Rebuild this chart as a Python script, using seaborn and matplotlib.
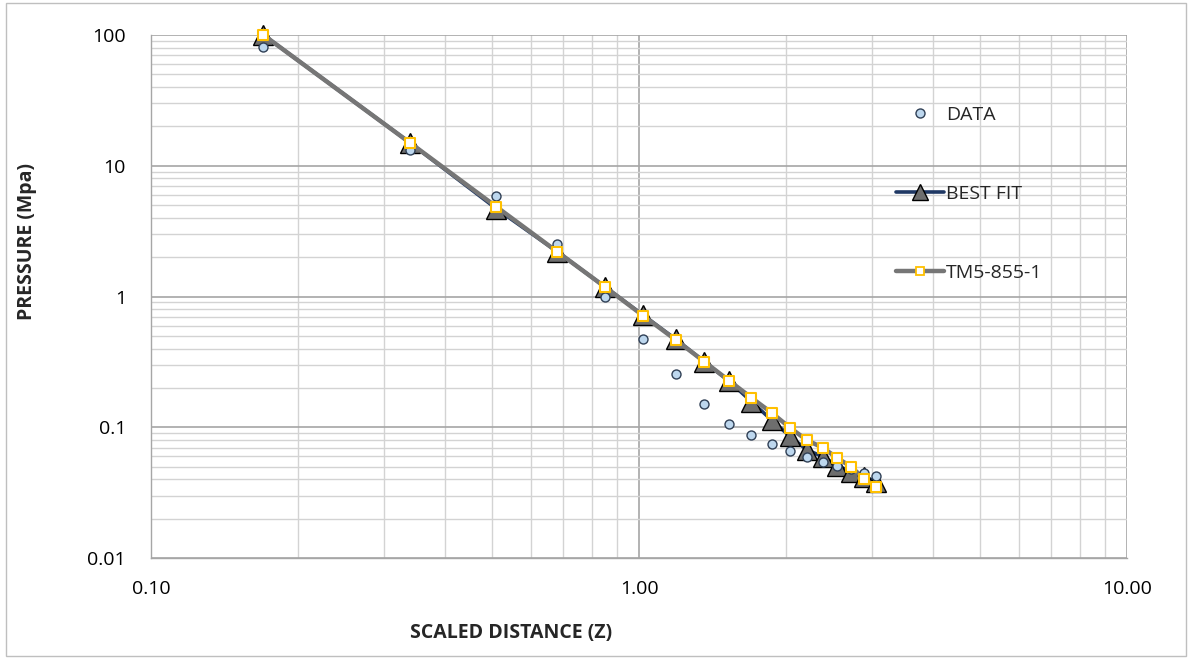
import matplotlib
matplotlib.use("Agg")
import matplotlib.pyplot as plt
import seaborn as sns
import numpy as np
import pandas as pd
from matplotlib.ticker import FixedLocator, FixedFormatter, LogLocator, NullFormatter
from matplotlib.patches import Rectangle
from matplotlib.lines import Line2D

# ---- data ----
scaled_distance = [0.17, 0.34, 0.51, 0.68, 0.85, 1.02, 1.19, 1.36, 1.53,
                   1.70, 1.87, 2.04, 2.21, 2.38, 2.55, 2.72, 2.89, 3.06]
data_pressure = [81.0, 13.2, 5.9, 2.5, 0.99, 0.475, 0.254, 0.151, 0.106,
                 0.087, 0.0744, 0.0658, 0.0596, 0.0542, 0.0508, 0.0477, 0.045, 0.0426]
best_fit = [100.0, 14.9, 4.7, 2.2, 1.19, 0.72, 0.47, 0.318, 0.225,
            0.157, 0.1135, 0.085, 0.067, 0.0596, 0.0508, 0.0457, 0.0419, 0.0384]
tm5_855_1 = [100.0, 14.9, 4.86, 2.2, 1.19, 0.713, 0.465, 0.318, 0.227,
             0.168, 0.129, 0.099, 0.0795, 0.0698, 0.058, 0.050, 0.0404, 0.0348]
x_ticks = [0.1, 1.0, 10.0]
x_tick_labels = ["0.10", "1.00", "10.00"]
y_ticks = [0.01, 0.1, 1, 10, 100]
y_tick_labels = ["0.01", "0.1", "1", "10", "100"]

df = pd.DataFrame({"Z": scaled_distance, "DATA": data_pressure,
                   "BEST FIT": best_fit, "TM5-855-1": tm5_855_1})

sns.set_theme(style="white")
plt.rcParams['font.family'] = ['Open Sans', 'DejaVu Sans']

fig = plt.figure(figsize=(11.92, 6.59), dpi=100)
ax = fig.add_axes([151/1192, 1 - 558/659, (1127-151)/1192, (558-35)/659])

# Best fit
sns.lineplot(data=df, x="Z", y="BEST FIT", ax=ax, color="#1f3864", lw=2.6,
             marker="^", markersize=14, markerfacecolor="#6e6e6e",
             markeredgecolor="black", markeredgewidth=1.0, sort=False,
             zorder=3, legend=False)
# TM5 line
sns.lineplot(data=df, x="Z", y="TM5-855-1", ax=ax, color="#767676", lw=3.2,
             sort=False, zorder=4, legend=False)
# TM5 markers
sns.scatterplot(data=df, x="Z", y="TM5-855-1", ax=ax, marker="s", s=60,
                facecolor="white", edgecolor="#ffc000", linewidth=1.5, zorder=6,
                legend=False)
# Data
sns.scatterplot(data=df, x="Z", y="DATA", ax=ax, marker="o", s=42,
                facecolor="#bdd7ee", edgecolor="#2f3f55", linewidth=1.0, zorder=5,
                legend=False)

for art in ax.lines + ax.collections:
    art.set_clip_on(False)

ax.set_xscale("log")
ax.set_yscale("log")
ax.set_xlim(0.1, 10)
ax.set_ylim(0.01, 100)

ax.xaxis.set_major_locator(FixedLocator(x_ticks))
ax.xaxis.set_major_formatter(FixedFormatter(x_tick_labels))
ax.yaxis.set_major_locator(FixedLocator(y_ticks))
ax.yaxis.set_major_formatter(FixedFormatter(y_tick_labels))
ax.xaxis.set_minor_locator(LogLocator(base=10, subs=np.arange(2, 10)))
ax.yaxis.set_minor_locator(LogLocator(base=10, subs=np.arange(2, 10)))
ax.xaxis.set_minor_formatter(NullFormatter())
ax.yaxis.set_minor_formatter(NullFormatter())

ax.grid(True, which="major", color="#a6a6a6", lw=1.2)
ax.grid(True, which="minor", color="#d3d3d3", lw=1.0)
ax.set_axisbelow(True)

for s in ["top", "right"]:
    ax.spines[s].set_visible(False)
for s in ["left", "bottom"]:
    ax.spines[s].set_color("#a6a6a6")
    ax.spines[s].set_linewidth(1.0)

ax.tick_params(axis="both", which="both", length=0, labelsize=14, colors="#000000")
ax.tick_params(axis="x", pad=16)
ax.tick_params(axis="y", pad=18)

ax.set_xlabel("")
ax.set_ylabel("")
fig.text(511/1192, 1 - 633/659, "SCALED DISTANCE (Z)", ha="center", va="center",
         fontsize=14, fontweight="bold")
fig.text(27/1192, 1 - 242/659, "PRESSURE (Mpa)", ha="center", va="center", rotation=90,
         fontsize=14, fontweight="bold")

# legend
handles = [
    Line2D([], [], ls="none", marker="o", markersize=6.5, markerfacecolor="#bdd7ee",
           markeredgecolor="#2f3f55", markeredgewidth=1.0),
    Line2D([], [], color="#1f3864", lw=2.6, marker="^", markersize=12,
           markerfacecolor="#6e6e6e", markeredgecolor="black", markeredgewidth=1.0),
    Line2D([], [], color="#767676", lw=3.2, marker="s", markersize=6,
           markerfacecolor="white", markeredgecolor="#ffc000", markeredgewidth=1.3),
]
leg = fig.legend(handles, ["DATA", "BEST FIT", "TM5-855-1"], loc="upper left",
                 bbox_to_anchor=(886/1192, 1 - 96/659), frameon=False, fontsize=14,
                 handlelength=2.5, handletextpad=0.1, labelspacing=3.15, borderpad=0)

# outer chart border
fig.patches.append(Rectangle((6/1192, 3/659), 1 - 12/1192, 1 - 6/659,
                             transform=fig.transFigure, fill=False,
                             edgecolor="#bfbfbf", lw=1.0))

fig.savefig("out.png", dpi=100)
